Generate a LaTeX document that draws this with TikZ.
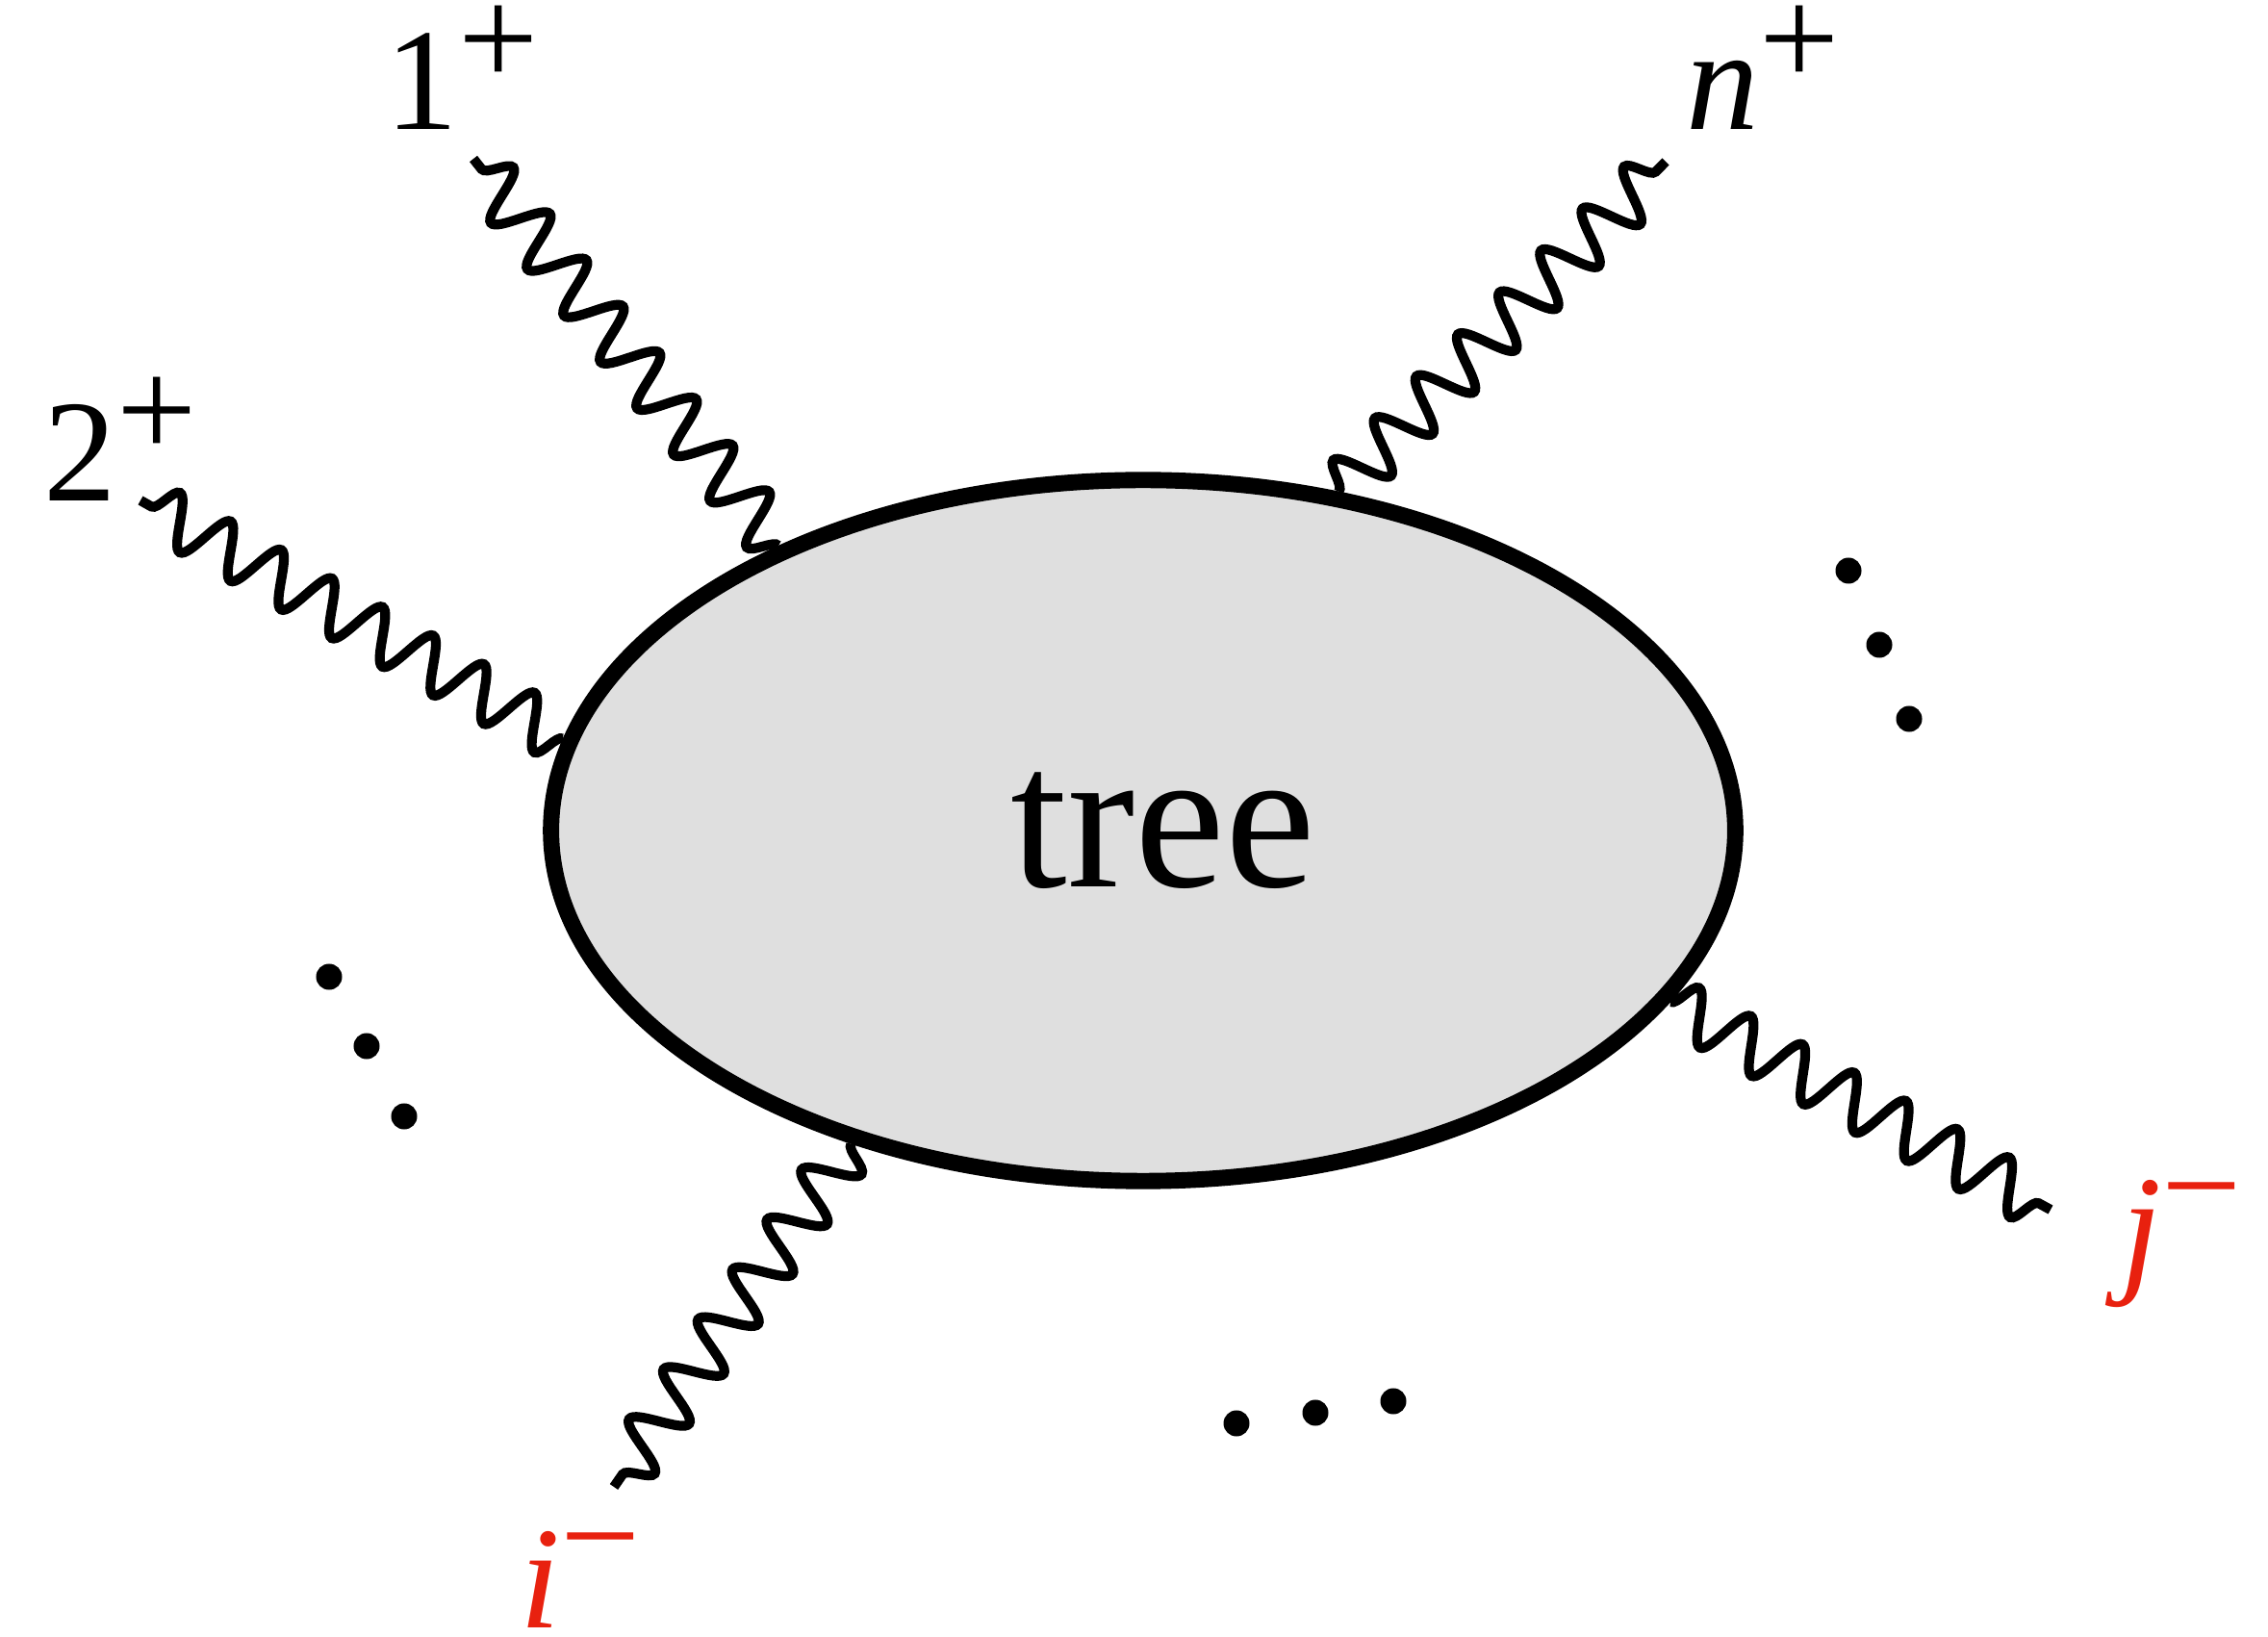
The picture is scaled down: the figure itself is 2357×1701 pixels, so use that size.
\documentclass[tikz,border=0pt]{standalone}
\usepackage{fontspec}
\setmainfont{Liberation Serif}
\usepackage{tikz}
\usetikzlibrary{shapes.geometric,decorations.pathmorphing}
\definecolor{blobgray}{HTML}{DFDFDF}
\definecolor{legred}{HTML}{E8210F}
\tikzset{
blob/.style={
	ellipse,
	draw=black,
	fill=blobgray,
	line width=4.8pt,
	inner sep=0pt,
	minimum width=12.3cm,
	minimum height=7.28cm,
	font=\fontsize{60}{60}\selectfont
},
gluon/.style={decorate, decoration={snake, segment length=#1, amplitude=0.27cm}, line width=2.9pt},
leg/.style={anchor=base west, inner sep=0pt, font=\fontsize{43}{43}\selectfont},
legdot/.style={circle, fill=black, inner sep=0pt, minimum size=0.27cm}
}
\newcommand{\hel}[1]{\raisebox{0.3em}{\fontsize{42}{42}\selectfont #1}}

\begin{document}
\begin{tikzpicture}[x=0.01cm,y=-0.01cm]
% canvas measured in pixels of the figure, y pointing down
\useasboundingbox (0,0) rectangle (2357,1701);

% ── Tree-level blob ────────────────────────────────────────────
\node[blob] (tree) at (1188,863) {\hspace*{0.42cm}tree};

% ── Outer ends of the external gluons ──────────────────────────
\coordinate (g1) at (492,165);
\coordinate (g2) at (146,520);
\coordinate (gn) at (1731,168);
\coordinate (gi) at (638,1545);
\coordinate (gj) at (2131,1257);

\draw[gluon=0.613cm] (tree.142) -- (g1);
\draw[gluon=0.604cm] (tree.171.5) -- (g2);
\draw[gluon=0.613cm] (tree.60) -- (gn);
\draw[gluon=0.63cm] (tree.227) -- (gi);
\draw[gluon=0.612cm] (tree.-18) -- (gj);

% ── Helicity labels ────────────────────────────────────────────
\node[leg] (l1) at (400,135) {1\hel{+}};
\node[leg] (l2) at (45,521) {2\hel{+}};
\node[leg] (ln) at (1752,135) {\textit{n}\hel{+}};
\node[leg,text=legred] (li) at (540,1691) {\textit{i}\hel{−}};
\node[leg,text=legred] (lj) at (2204,1327) {\textit{j}\hel{−}};

% ── Ellipsis dots ──────────────────────────────────────────────
\foreach \x/\y [count=\k] in {342/1015, 381/1087, 420/1160}
	\node[legdot] (dl\k) at (\x,\y) {};
\foreach \x/\y [count=\k] in {1921/593, 1953/670, 1984/747}
	\node[legdot] (dr\k) at (\x,\y) {};
\foreach \x/\y [count=\k] in {1285/1479, 1367/1468, 1448/1456}
	\node[legdot] (db\k) at (\x,\y) {};
\end{tikzpicture}
\end{document}
